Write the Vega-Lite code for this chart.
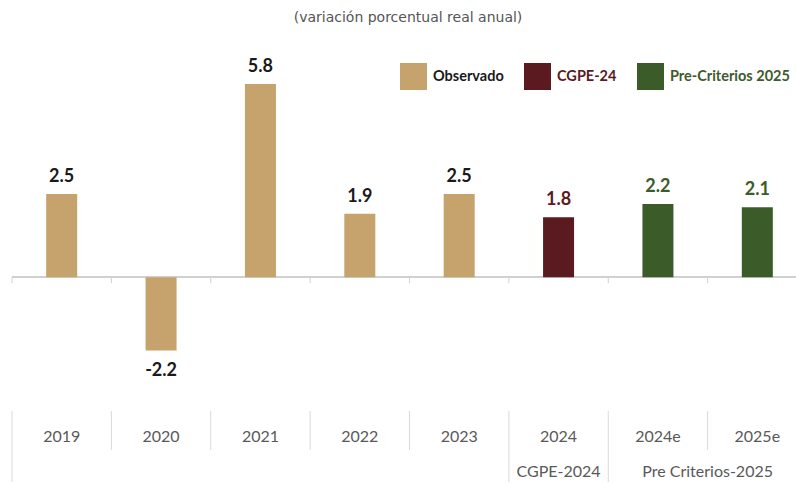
{
  "$schema": "https://vega.github.io/schema/vega-lite/v6.json",
  "autosize": {"type": "none"},
  "padding": {"left": 12, "top": 44, "right": 0, "bottom": 0},
  "width": 784,
  "height": 438,
  "title": {
    "text": "(variación porcentual real anual)",
    "frame": "group",
    "anchor": "middle",
    "offset": 12,
    "dx": 4,
    "baseline": "middle",
    "font": "DejaVu Sans",
    "fontSize": 14,
    "fontWeight": "normal",
    "color": "#555555"
  },
  "datasets": {
    "growth": [
      {"cat": "2019", "value": 2.5, "group": "Observado"},
      {"cat": "2020", "value": -2.2, "group": "Observado"},
      {"cat": "2021", "value": 5.8, "group": "Observado"},
      {"cat": "2022", "value": 1.9, "group": "Observado"},
      {"cat": "2023", "value": 2.5, "group": "Observado"},
      {"cat": "2024", "value": 1.8, "group": "CGPE-24"},
      {"cat": "2024e", "value": 2.2, "group": "Pre-Criterios 2025"},
      {"cat": "2025e", "value": 2.1, "group": "Pre-Criterios 2025"}
    ]
  },
  "data": {"name": "growth"},
  "encoding": {
    "x": {
      "field": "cat",
      "type": "nominal",
      "axis": null,
      "scale": {
        "domain": ["2019", "2020", "2021", "2022", "2023", "2024", "2024e", "2025e"],
        "range": [0, 795],
        "paddingInner": 0,
        "paddingOuter": 0
      }
    }
  },
  "layer": [
    {
      "mark": {"type": "rule", "color": "#d0d0d0", "strokeWidth": 1},
      "encoding": {
        "x": null,
        "y": {"datum": 0, "type": "quantitative", "axis": null, "scale": {"domain": [-6.15, 7], "nice": false}}
      }
    },
    {
      "mark": {"type": "rule", "color": "#d0d0d0", "strokeWidth": 1},
      "encoding": {
        "x": {"field": "cat", "type": "nominal", "bandPosition": 0},
        "y": {"datum": 0, "type": "quantitative"},
        "y2": {"datum": -0.18}
      }
    },
    {
      "mark": {"type": "bar", "width": 31},
      "encoding": {
        "y": {"field": "value", "type": "quantitative"},
        "color": {
          "field": "group",
          "type": "nominal",
          "scale": {
            "domain": ["Observado", "CGPE-24", "Pre-Criterios 2025"],
            "range": ["#c6a26c", "#5a1a1f", "#3b5c28"]
          },
          "legend": {
            "title": null,
            "orient": "none",
            "direction": "horizontal",
            "legendX": 388,
            "legendY": 19,
            "padding": 0,
            "symbolType": "square",
            "symbolSize": 729,
            "symbolStrokeWidth": 0,
            "symbolOpacity": 1,
            "labelOffset": 6,
            "columnPadding": 20,
            "labelFont": "Lato",
            "labelFontSize": 14.5,
            "labelFontWeight": "bold",
            "labelLimit": 300,
            "encode": {
              "labels": {
                "update": {
                  "fill": {"signal": "datum.label == 'CGPE-24' ? '#5a1a1f' : datum.label == 'Pre-Criterios 2025' ? '#3e5a2e' : '#1a1a1a'"}
                }
              }
            }
          }
        }
      }
    },
    {
      "transform": [{"filter": "datum.value > 0"}],
      "mark": {"type": "text", "font": "Lato", "fontSize": 18, "fontWeight": "bold", "baseline": "middle", "dy": -17},
      "encoding": {
        "y": {"field": "value", "type": "quantitative"},
        "text": {"field": "value", "type": "quantitative", "format": ".1f"},
        "color": {
          "condition": {"test": "datum.group == 'Observado'", "value": "#1a1a1a"},
          "field": "group",
          "type": "nominal",
          "legend": null
        }
      }
    },
    {
      "transform": [{"filter": "datum.value < 0"}],
      "mark": {"type": "text", "font": "Lato", "fontSize": 18, "fontWeight": "bold", "baseline": "middle", "dy": 21, "color": "#1a1a1a"},
      "encoding": {
        "y": {"field": "value", "type": "quantitative"},
        "text": {"field": "value", "type": "quantitative", "format": ".1f"}
      }
    },
    {
      "mark": {"type": "rule", "color": "#d9d9d9", "strokeWidth": 1},
      "encoding": {
        "x": {"field": "cat", "type": "nominal", "bandPosition": 0},
        "y": {"datum": -4.02, "type": "quantitative"},
        "y2": {"datum": -5.19}
      }
    },
    {
      "transform": [{"filter": "datum.cat == '2019' || datum.cat == '2024' || datum.cat == '2024e'"}],
      "mark": {"type": "rule", "color": "#d9d9d9", "strokeWidth": 1, "clip": false},
      "encoding": {
        "x": {"field": "cat", "type": "nominal", "bandPosition": 0},
        "y": {"datum": -5.19, "type": "quantitative"},
        "y2": {"datum": -6.3}
      }
    },
    {
      "mark": {"type": "text", "font": "Lato", "fontSize": 16, "color": "#595959", "baseline": "middle"},
      "encoding": {
        "y": {"datum": -4.8, "type": "quantitative"},
        "text": {"field": "cat", "type": "nominal"}
      }
    },
    {
      "transform": [{"filter": "datum.cat == '2024'"}],
      "mark": {"type": "text", "font": "Lato", "fontSize": 16, "color": "#595959", "baseline": "middle"},
      "encoding": {
        "y": {"datum": -5.85, "type": "quantitative"},
        "text": {"value": "CGPE-2024"}
      }
    },
    {
      "transform": [{"filter": "datum.cat == '2024e'"}],
      "mark": {"type": "text", "font": "Lato", "fontSize": 16, "color": "#595959", "baseline": "middle"},
      "encoding": {
        "x": {"field": "cat", "type": "nominal", "bandPosition": 1},
        "y": {"datum": -5.85, "type": "quantitative"},
        "text": {"value": "Pre Criterios-2025"}
      }
    }
  ],
  "config": {
    "view": {"stroke": null},
    "locale": {
      "number": {"decimal": ".", "thousands": ",", "grouping": [3], "currency": ["$", ""], "minus": "-"}
    }
  }
}
